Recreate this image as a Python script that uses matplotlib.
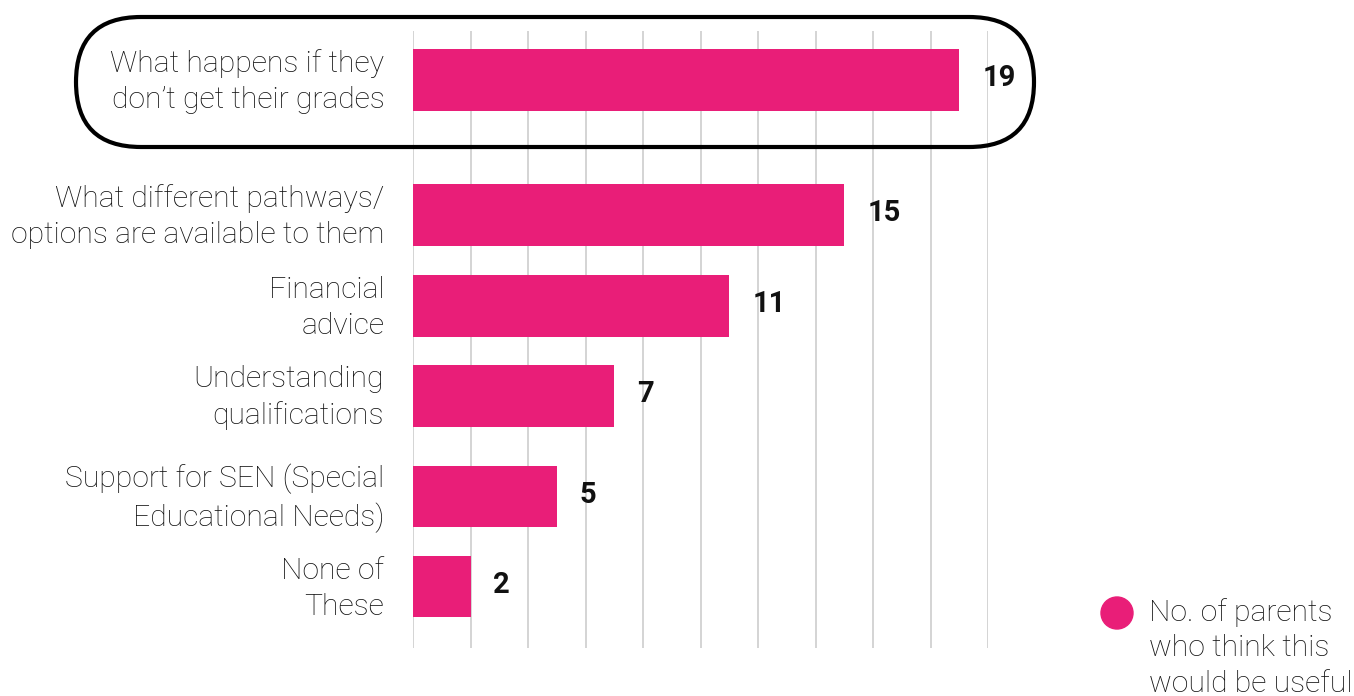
import matplotlib.pyplot as plt
from matplotlib.patches import FancyBboxPatch, Circle
from matplotlib.transforms import IdentityTransform

plt.rcParams['font.family'] = ['Roboto', 'DejaVu Sans']

topics = [
    "What happens if they\ndon\u2019t get their grades",
    "What different pathways/\noptions are available to them",
    "Financial\nadvice",
    "Understanding\nqualifications",
    "Support for SEN (Special\nEducational Needs)",
    "None of\nThese",
]
parents = [19, 15, 11, 7, 5, 2]
legend_label = "No. of parents\nwho think this\nwould be useful"

pink = "#E91E78"
W, H = 1354, 696

fig = plt.figure(figsize=(W / 100, H / 100), dpi=100)
ax = fig.add_axes([413 / W, 48 / H, 575 / W, 617 / H])

# row centres, the first one pushed up to sit inside its highlight box
rows = [0, 1.5, 2.51, 3.51, 4.63, 5.63]

ax.barh(rows, parents, height=0.68, color=pink, zorder=2)
ax.set_xlim(0, 20)
ax.set_ylim(6.31, -0.544)

for x in range(0, 21, 2):
    ax.axvline(x, color="#d4d4d4", lw=1.4, zorder=1)

for y, name, n in zip(rows, topics, parents):
    ax.text(-1.0, y + 0.02, name, ha="right", va="center", fontsize=21.7,
            fontweight="light", color="#111111", linespacing=1.36)
    ax.text(n + 0.8, y - 0.02, str(n), ha="left", va="center", fontsize=21,
            fontweight="bold", color="#111111")

ax.set_xticks([])
ax.set_yticks([])
for s in ax.spines.values():
    s.set_visible(False)

# highlight round the top answer
box = FancyBboxPatch((76, H - 147), 958, 130,
                     boxstyle="round,pad=0,rounding_size=65",
                     fill=False, ec="black", lw=3, transform=IdentityTransform(),
                     zorder=5)
fig.patches.append(box)

# legend
fig.patches.append(Circle((1117, H - 613), 16, color=pink,
                          transform=IdentityTransform()))
fig.text(1149 / W, 1 - 648 / H, legend_label, ha="left", va="center",
         fontsize=21.7, fontweight="light", color="#111111", linespacing=1.36)

fig.savefig("out.png", dpi=100)
